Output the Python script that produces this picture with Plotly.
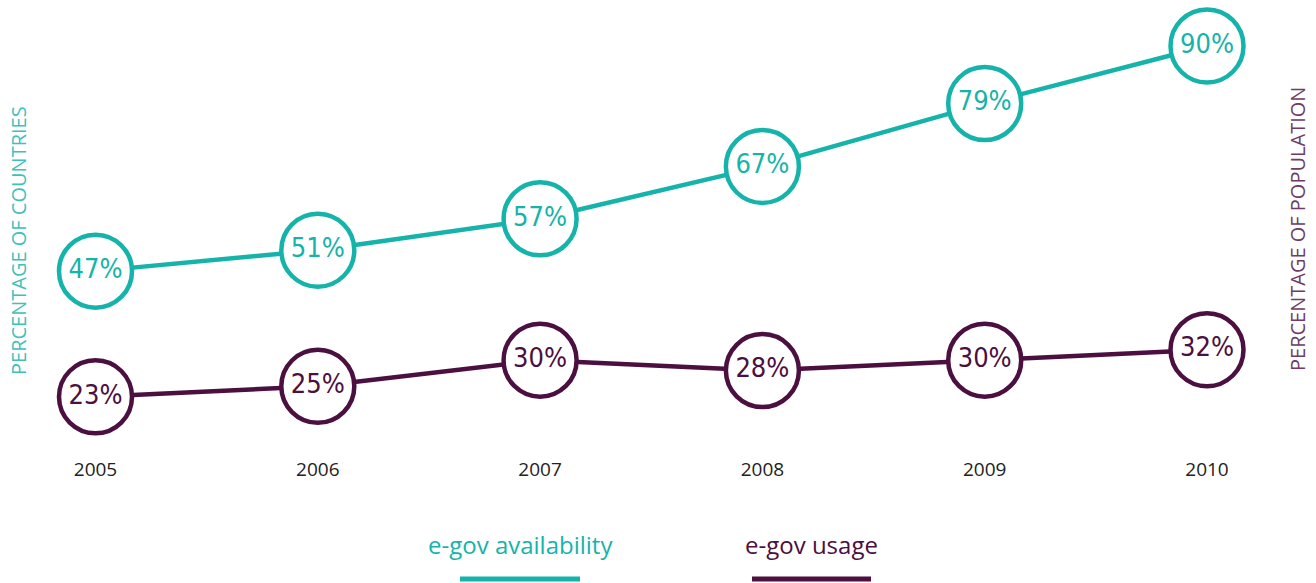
import plotly.graph_objects as go

years = [2005, 2006, 2007, 2008, 2009, 2010]
availability = [47, 51, 57, 67, 79, 90]
usage = [23, 25, 30, 28, 30, 32]
avail_labels = [f"{v}%" for v in availability]
usage_labels = [f"{v}%" for v in usage]

TEAL = "#16b3ab"
PLUM = "#4b0f40"
W, H = 1316, 583
L, R, T = 0, 0, 0
PLOT_BOTTOM = 440
B = H - PLOT_BOTTOM
PW, PH = W - L - R, H - T - B

def px(x):  # page pixel -> paper
    return (x - L) / PW

def py(y):
    return 1 - (y - T) / PH

num_font = "Liberation Sans Narrow, DejaVu Sans Condensed, Arial Narrow, sans-serif"

fig = go.Figure()
for vals, labels, color, name in [
    (availability, avail_labels, TEAL, "e-gov availability"),
    (usage, usage_labels, PLUM, "e-gov usage"),
]:
    fig.add_trace(go.Scatter(
        x=years, y=vals, name=name, mode="lines+markers+text",
        text=labels, textposition="middle center",
        textfont=dict(family=num_font, size=27, color=color),
        line=dict(color=color, width=4.5),
        marker=dict(size=73, color="white", line=dict(color=color, width=4.5)),
        showlegend=False, cliponaxis=False,
    ))

# x mapping: 2005 -> 95.5px, 2010 -> 1207px
ppy = (1207 - 95.5) / 5
x0 = 2005 - (95.5 - L) / ppy
x1 = x0 + PW / ppy

def ann(text, x, y, size, color, angle=0):
    return dict(text=text, x=px(x), y=py(y), xref="paper", yref="paper",
                xanchor="center", yanchor="middle", textangle=angle, showarrow=False,
                font=dict(family="Open Sans, sans-serif", size=size, color=color))

fig.update_layout(
    width=W, height=H,
    margin=dict(l=L, r=R, t=T, b=B),
    paper_bgcolor="white", plot_bgcolor="white",
    xaxis=dict(range=[x0, x1], tickvals=years, ticktext=[str(y) for y in years],
               showgrid=False, zeroline=False, showline=False,
               tickfont=dict(family="Open Sans, sans-serif", size=19, color="#222222"),
               ticklabelstandoff=16),
    yaxis=dict(range=[14.75, 98.78], visible=False, showgrid=False, zeroline=False),
    annotations=[
        ann("PERCENTAGE OF COUNTRIES", 18, 241, 20, "#3fc1b9", -90),
        ann("PERCENTAGE OF POPULATION", 1297, 229, 20, "#6e3c66", -90),
        ann("e-gov availability", 520, 544, 24, TEAL),
        ann("e-gov usage", 811, 544, 24, PLUM),
    ],
    shapes=[
        dict(type="line", xref="paper", yref="paper", x0=px(460), x1=px(580), y0=py(579), y1=py(579),
             line=dict(color=TEAL, width=5)),
        dict(type="line", xref="paper", yref="paper", x0=px(752), x1=px(871), y0=py(579), y1=py(579),
             line=dict(color=PLUM, width=5)),
    ],
)

fig.write_html("out.html", config={"displayModeBar": False},
               post_script="document.body.style.margin='0';")
